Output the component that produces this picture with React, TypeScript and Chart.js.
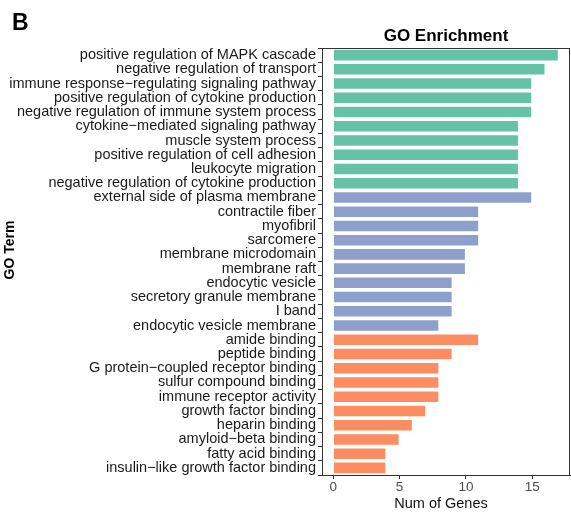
import React, { useEffect, useRef } from "react";
import { Chart, registerables } from "chart.js";

Chart.register(...registerables);

const FONT = "'Liberation Sans', Arial, Helvetica, sans-serif";

// GO terms, top to bottom
const bpTerms = [
  "positive regulation of MAPK cascade",
  "negative regulation of transport",
  "immune response\u2212regulating signaling pathway",
  "positive regulation of cytokine production",
  "negative regulation of immune system process",
  "cytokine\u2212mediated signaling pathway",
  "muscle system process",
  "positive regulation of cell adhesion",
  "leukocyte migration",
  "negative regulation of cytokine production",
];
const bpCounts = [17, 16, 15, 15, 15, 14, 14, 14, 14, 14];

const ccTerms = [
  "external side of plasma membrane",
  "contractile fiber",
  "myofibril",
  "sarcomere",
  "membrane microdomain",
  "membrane raft",
  "endocytic vesicle",
  "secretory granule membrane",
  "I band",
  "endocytic vesicle membrane",
];
const ccCounts = [15, 11, 11, 11, 10, 10, 9, 9, 9, 8];

const mfTerms = [
  "amide binding",
  "peptide binding",
  "G protein\u2212coupled receptor binding",
  "sulfur compound binding",
  "immune receptor activity",
  "growth factor binding",
  "heparin binding",
  "amyloid\u2212beta binding",
  "fatty acid binding",
  "insulin\u2212like growth factor binding",
];
const mfCounts = [11, 9, 8, 8, 8, 7, 6, 5, 4, 4];

const xTicks = [0, 5, 10, 15];

const COLOR_BP = "#66C2A5";
const COLOR_CC = "#8DA0CB";
const COLOR_MF = "#FC8D62";

const labels = [...bpTerms, ...ccTerms, ...mfTerms];
const counts = [...bpCounts, ...ccCounts, ...mfCounts];
const colors = [
  ...bpTerms.map(() => COLOR_BP),
  ...ccTerms.map(() => COLOR_CC),
  ...mfTerms.map(() => COLOR_MF),
];

const decorations = {
  id: "decorations",
  afterDraw(chart: any) {
    const { ctx, chartArea } = chart;
    const { left, right, top, bottom } = chartArea;
    ctx.save();
    // panel border
    ctx.strokeStyle = "#333333";
    ctx.lineWidth = 1;
    ctx.strokeRect(left + 0.5, top + 0.5, right - left - 1, bottom - top);

    ctx.fillStyle = "#000000";
    ctx.textAlign = "left";
    ctx.textBaseline = "alphabetic";
    ctx.font = `bold 23px ${FONT}`;
    ctx.fillText("B", 12, 30);

    ctx.textAlign = "center";
    ctx.font = `bold 17px ${FONT}`;
    ctx.fillText("GO Enrichment", (left + right) / 2, 41);

    ctx.font = `14.5px ${FONT}`;
    ctx.fillStyle = "#111111";
    ctx.fillText("Num of Genes", (left + right) / 2 - 5, 508);

    ctx.translate(10, 250);
    ctx.rotate(-Math.PI / 2);
    ctx.fillStyle = "#000000";
    ctx.font = `bold 14px ${FONT}`;
    ctx.textBaseline = "middle";
    ctx.fillText("GO Term", 0, 0);
    ctx.restore();
  },
};

export default function App() {
  const ref = useRef<HTMLCanvasElement>(null);

  useEffect(() => {
    if (!ref.current) return;
    const chart = new Chart(ref.current, {
      type: "bar",
      data: {
        labels,
        datasets: [
          {
            data: counts,
            backgroundColor: colors,
            borderColor: "rgba(255,255,255,0.35)",
            borderWidth: 1,
            barPercentage: 0.88,
            categoryPercentage: 1,
          },
        ],
      },
      options: {
        indexAxis: "y",
        animation: false,
        responsive: false,
        devicePixelRatio: 1,
        layout: { padding: { top: 48, right: 1, bottom: 0, left: 0 } },
        plugins: {
          legend: { display: false },
          tooltip: { enabled: false },
          title: { display: false },
        },
        scales: {
          x: {
            type: "linear",
            min: -0.85,
            max: 17.85,
            afterBuildTicks: (scale: any) => {
              scale.ticks = xTicks.map((v) => ({ value: v }));
            },
            afterFit: (scale: any) => {
              scale.height = 37;
            },
            grid: {
              drawOnChartArea: false,
              drawTicks: true,
              tickLength: 4,
              color: "#333333",
            },
            border: { display: true, color: "#333333", width: 1 },
            ticks: {
              color: "#4d4d4d",
              font: { family: FONT, size: 13.5 },
              padding: 0,
              maxRotation: 0,
            },
          },
          y: {
            type: "category",
            afterFit: (scale: any) => {
              scale.width = 322;
            },
            grid: {
              drawOnChartArea: false,
              drawTicks: true,
              tickLength: 4,
              color: "#333333",
            },
            border: { display: true, color: "#333333", width: 1 },
            ticks: {
              autoSkip: false,
              color: "#1a1a1a",
              font: { family: FONT, size: 14.5 },
              padding: 2,
            },
          },
        },
      },
      plugins: [decorations],
    });
    return () => chart.destroy();
  }, []);

  return (
    <div style={{ position: "fixed", left: 0, top: 0, width: 571, height: 512, background: "#ffffff" }}>
      <canvas ref={ref} width={571} height={512} style={{ display: "block" }} />
    </div>
  );
}
